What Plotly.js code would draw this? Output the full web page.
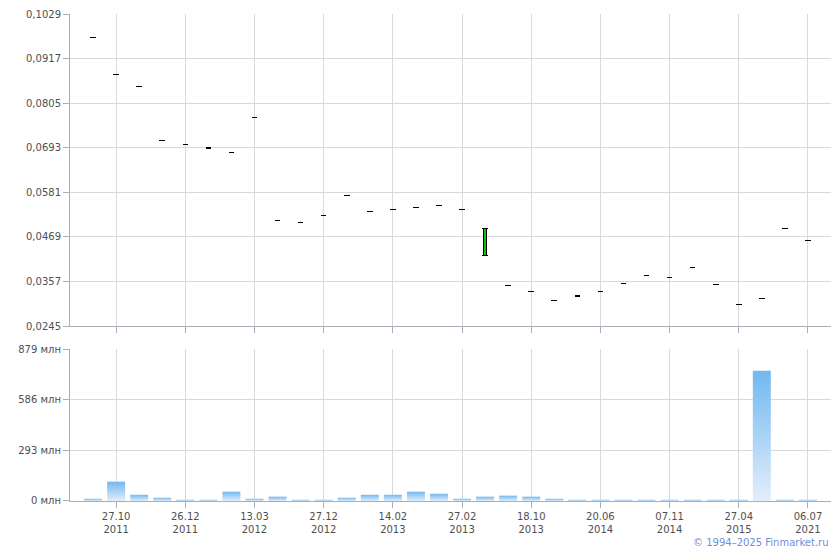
<!DOCTYPE html>
<html>
<head>
<meta charset="utf-8">
<script src="https://cdn.plot.ly/plotly-3.0.1.min.js"></script>
<style>
html,body{margin:0;padding:0;background:#fff;}
#chart{width:840px;height:550px;}
</style>
</head>
<body>
<div id="chart"></div>
<script>
// Session index (categorical sessions, only some dates are labelled)
const sessions = Array.from({length: 32}, (_, i) => i);

// Price (open / close) per session
const priceOpen = [
  0.0969, 0.0876, 0.0846, 0.0710, 0.0700, 0.0693, 0.0680, 0.0770,
  0.0509, 0.0504, 0.0524, 0.0574, 0.0534, 0.0537, 0.0544, 0.0547,
  0.0537, 0.0423, 0.0346, 0.0333, 0.0308, 0.0321, 0.0333, 0.0353,
  0.0371, 0.0368, 0.0391, 0.0350, 0.0300, 0.0315, 0.0491, 0.0459
];
const priceClose = [
  0.0969, 0.0876, 0.0846, 0.0710, 0.0700, 0.0692, 0.0680, 0.0770,
  0.0509, 0.0504, 0.0524, 0.0574, 0.0534, 0.0537, 0.0544, 0.0547,
  0.0537, 0.0489, 0.0346, 0.0333, 0.0308, 0.0320, 0.0333, 0.0353,
  0.0371, 0.0368, 0.0391, 0.0350, 0.0300, 0.0315, 0.0491, 0.0459
];

// Volume, mln
const volume = [
  13, 112, 36, 19, 7, 7, 54, 13, 25, 7, 7, 19, 36, 36, 54, 42,
  13, 25, 31, 25, 13, 7, 7, 7, 7, 7, 7, 7, 7, 753, 7, 7
];

// X tick labels (every third session starting with session 1)
const tickLabels = [
  '27.10<br>2011', '26.12<br>2011', '13.03<br>2012', '27.12<br>2012',
  '14.02<br>2013', '27.02<br>2013', '18.10<br>2013', '20.06<br>2014',
  '07.11<br>2014', '27.04<br>2015', '06.07<br>2021'
];
const tickSessions = tickLabels.map((_, i) => 1 + 3 * i);

const priceTicks = [0.0245, 0.0357, 0.0469, 0.0581, 0.0693, 0.0805, 0.0917, 0.1029];
const volumeTicks = [0, 293, 586, 879];
const volumeTickText = volumeTicks.map(v => v + ' млн');

const gridColor = '#d5dadf';
const lineColor = '#a9afb6';
const font = {family: 'DejaVu Sans, Verdana, sans-serif', size: 10, color: '#4f4f4f'};

// candle bodies
const bodyBase = priceOpen.map((o, i) => Math.min(o, priceClose[i]));
const bodyH = priceOpen.map((o, i) => Math.abs(priceClose[i] - o));
const bodyX = [], bodyB = [], bodyY = [];
sessions.forEach((s, i) => { if (bodyH[i] > 0.0005) { bodyX.push(s); bodyB.push(bodyBase[i]); bodyY.push(bodyH[i]); } });

const traces = [
  {
    type: 'bar', x: sessions, y: volume, xaxis: 'x', yaxis: 'y',
    marker: {color: '#a9d2f5', line: {width: 0}}, hoverinfo: 'skip'
  },
  {
    type: 'scatter', mode: 'markers', x: sessions, y: priceOpen, xaxis: 'x2', yaxis: 'y2',
    marker: {symbol: 'line-ew', size: 4, line: {width: 1, color: '#000'}}, hoverinfo: 'skip'
  },
  {
    type: 'scatter', mode: 'markers', x: sessions, y: priceClose, xaxis: 'x2', yaxis: 'y2',
    marker: {symbol: 'line-ew', size: 4, line: {width: 1, color: '#000'}}, hoverinfo: 'skip'
  },
  {
    type: 'bar', x: bodyX, base: bodyB, y: bodyY, xaxis: 'x2', yaxis: 'y2', width: 0.15,
    marker: {color: '#10c010', line: {width: 1, color: '#000'}}, hoverinfo: 'skip'
  }
];

const commonX = {
  range: [-1, 32], tickvals: tickSessions, ticktext: tickLabels,
  ticks: 'outside', ticklen: 6, tickcolor: lineColor, tickwidth: 1,
  showgrid: true, gridcolor: gridColor, gridwidth: 1,
  showline: true, linecolor: lineColor, linewidth: 1,
  zeroline: false, fixedrange: true, tickfont: font
};

const layout = {
  width: 840, height: 550,
  margin: {l: 70, r: 9, t: 14, b: 49, pad: 0},
  showlegend: false,
  paper_bgcolor: '#fff', plot_bgcolor: '#fff',
  separators: ', ',
  bargap: 0.22,
  font: font,
  xaxis: Object.assign({}, commonX, {anchor: 'y', domain: [0, 1]}),
  xaxis2: Object.assign({}, commonX, {anchor: 'y2', domain: [0, 1], showticklabels: false}),
  yaxis: {
    domain: [0, 0.3121], range: [0, 879.5], tickvals: volumeTicks, ticktext: volumeTickText,
    ticks: 'outside', ticklen: 6, tickcolor: lineColor,
    showgrid: true, gridcolor: gridColor, showline: true, linecolor: lineColor,
    zeroline: false, fixedrange: true, tickfont: font
  },
  yaxis2: {
    domain: [0.3593, 1], range: [0.0245, 0.10291], tickvals: priceTicks, tickformat: '.4f',
    ticks: 'outside', ticklen: 6, tickcolor: lineColor,
    showgrid: true, gridcolor: gridColor, showline: true, linecolor: lineColor,
    zeroline: false, fixedrange: true, tickfont: font
  },
  annotations: [{
    text: '© 1994–2025 Finmarket.ru', xref: 'paper', yref: 'paper',
    x: 1, y: -0.0842, xanchor: 'right', yanchor: 'middle', showarrow: false,
    font: {family: 'DejaVu Sans, Verdana, sans-serif', size: 10, color: '#6f8ede'}
  }]
};

Plotly.newPlot('chart', traces, layout, {displayModeBar: false, staticPlot: true}).then(gd => {
  const svg = gd.querySelector('svg.main-svg');
  const ns = 'http://www.w3.org/2000/svg';
  let defs = svg.querySelector('defs');
  if (!defs) { defs = document.createElementNS(ns, 'defs'); svg.insertBefore(defs, svg.firstChild); }
  const grad = document.createElementNS(ns, 'linearGradient');
  grad.setAttribute('id', 'volgrad');
  grad.setAttribute('x1', '0'); grad.setAttribute('y1', '0');
  grad.setAttribute('x2', '0'); grad.setAttribute('y2', '1');
  [['0%', '#72b8f0'], ['100%', '#e2eefb']].forEach(([o, c]) => {
    const st = document.createElementNS(ns, 'stop');
    st.setAttribute('offset', o); st.setAttribute('stop-color', c);
    grad.appendChild(st);
  });
  defs.appendChild(grad);
  gd.querySelectorAll('.subplot.xy .barlayer .point path').forEach(p => {
    p.style.fill = 'url(#volgrad)';
  });
  gd.querySelectorAll('.subplot.x2y2 .scatterlayer path.point, .subplot.x2y2 .barlayer path').forEach(p => {
    p.style.shapeRendering = 'crispEdges';
  });
});
</script>
</body>
</html>
